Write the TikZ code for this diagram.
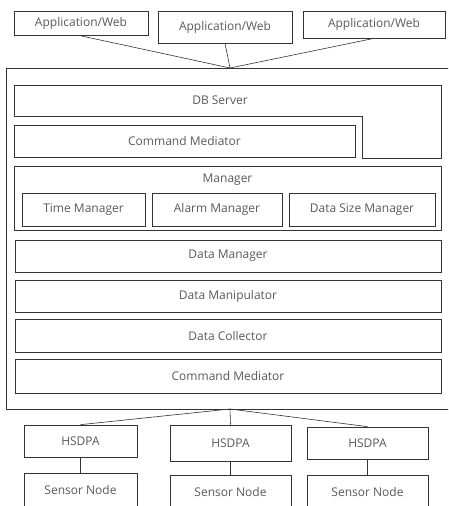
\documentclass[tikz,border=0pt]{standalone}
\usepackage{fontspec}
\setmainfont{Open Sans}
\tikzset{
  blocco/.style={draw=black!80, line width=0.7pt, inner sep=0pt,
    font=\fontsize{12}{14}\selectfont, text=black!65},
  filo/.style={draw=black!80, line width=0.6pt},
}
\begin{document}
\begin{tikzpicture}[x=1pt,y=-1pt]
  \useasboundingbox (0,0) rectangle (448,506);
  \clip (0,0) rectangle (448,506);

  % Applicazioni in alto
  \node[blocco, minimum width=134pt, minimum height=24pt] (app1) at (81,23.5) {Application/Web};
  \node[blocco, minimum width=134pt, minimum height=32pt] (app2) at (225,27) {Application/Web};
  \node[blocco, minimum width=142pt, minimum height=27pt] (app3) at (374,24.5) {Application/Web};

  % Contenitore del sistema
  \node[blocco, minimum width=454pt, minimum height=341pt] (sistema) at (233,238.5) {};
  \coordinate (alto) at (230,68);
  \coordinate (basso) at (230,409);
  \foreach \i in {1,2,3}
    \draw[filo] (app\i.south) -- (alto);

  % DB Server a forma di L
  \draw[filo] (14,85) -- (441,85) -- (441,158) -- (362,158) -- (362,116) -- (14,116) -- cycle;
  \node[blocco, draw=none] (db) at (220,100) {DB Server};
  \node[blocco, minimum width=341pt, minimum height=32pt] (cmd1) at (184.5,141) {Command Mediator};

  % Manager e sotto-moduli
  \node[blocco, minimum width=427pt, minimum height=64pt] (manager) at (227.5,198) {};
  \node[blocco, draw=none] (managertxt) at (227.5,180) {Manager};
  \node[blocco, minimum width=123pt, minimum height=33pt] (time) at (83.5,209.5) {Time Manager};
  \node[blocco, minimum width=130pt, minimum height=33pt] (alarm) at (217,209.5) {Alarm Manager};
  \node[blocco, minimum width=146pt, minimum height=33pt] (size) at (362,209.5) {Data Size Manager};

  % Strati dei dati
  \node[blocco, minimum width=426pt, minimum height=32pt] (dman) at (228,256) {Data Manager};
  \node[blocco, minimum width=426pt, minimum height=32pt] (dmanip) at (228,296) {Data Manipulator};
  \node[blocco, minimum width=426pt, minimum height=33pt] (dcoll) at (228,335.5) {Data Collector};
  \node[blocco, minimum width=426pt, minimum height=34pt] (cmd2) at (228,376) {Command Mediator};

  % HSDPA e nodi sensore
  \foreach \i/\x/\yh/\hh/\ys/\w in {1/80.5/441/32/490/113, 2/230.5/443/36/492/121, 3/367.5/443/32/492/121} {
    \node[blocco, minimum width=\w pt, minimum height=\hh pt] (hsdpa\i) at (\x,\yh) {HSDPA};
    \node[blocco, minimum width=\w pt, minimum height=34pt] (sensore\i) at (\x,\ys) {Sensor Node};
    \draw[filo] (basso) -- (hsdpa\i.north);
    \draw[filo] (hsdpa\i.south) -- (sensore\i.north);
  }
\end{tikzpicture}
\end{document}
